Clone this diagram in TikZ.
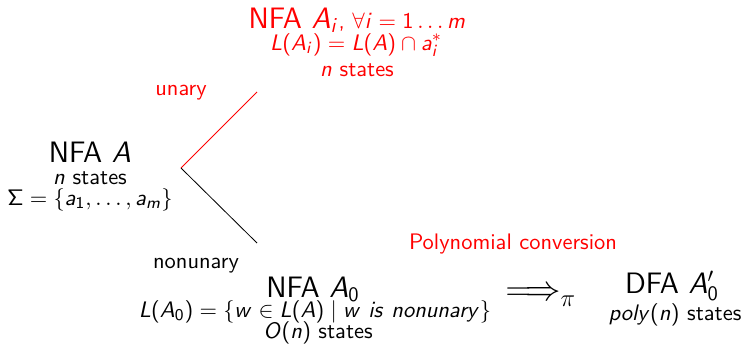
\documentclass[11pt,tikz,border=0pt]{standalone}
\usepackage{amsmath}
\renewcommand{\familydefault}{\sfdefault}
% sans serif letters and digits in math, as on a slide
\DeclareSymbolFont{sfletters}{OT1}{cmss}{m}{sl}
\DeclareSymbolFont{sfupright}{OT1}{cmss}{m}{n}
\DeclareMathSymbol{A}{\mathalpha}{sfletters}{`A}
\DeclareMathSymbol{L}{\mathalpha}{sfletters}{`L}
\DeclareMathSymbol{O}{\mathalpha}{sfletters}{`O}
\DeclareMathSymbol{a}{\mathalpha}{sfletters}{`a}
\DeclareMathSymbol{i}{\mathalpha}{sfletters}{`i}
\DeclareMathSymbol{l}{\mathalpha}{sfletters}{`l}
\DeclareMathSymbol{m}{\mathalpha}{sfletters}{`m}
\DeclareMathSymbol{n}{\mathalpha}{sfletters}{`n}
\DeclareMathSymbol{o}{\mathalpha}{sfletters}{`o}
\DeclareMathSymbol{p}{\mathalpha}{sfletters}{`p}
\DeclareMathSymbol{r}{\mathalpha}{sfletters}{`r}
\DeclareMathSymbol{s}{\mathalpha}{sfletters}{`s}
\DeclareMathSymbol{u}{\mathalpha}{sfletters}{`u}
\DeclareMathSymbol{w}{\mathalpha}{sfletters}{`w}
\DeclareMathSymbol{y}{\mathalpha}{sfletters}{`y}
\DeclareMathSymbol{0}{\mathord}{sfupright}{`0}
\DeclareMathSymbol{1}{\mathord}{sfupright}{`1}
\DeclareMathSymbol{(}{\mathopen}{sfupright}{`(}
\DeclareMathSymbol{)}{\mathclose}{sfupright}{`)}
\DeclareMathSymbol{\Sigma}{\mathalpha}{sfupright}{"06}

\begin{document}
\begin{tikzpicture}[x=0.4875pt, y=-0.4875pt,
    every node/.style={anchor=base, inner sep=0pt},
    title/.style={font=\Large}]
    \useasboundingbox (0,0) rectangle (743,343);

    % the given automaton
    \node[title] (srcname) at (90,162) {NFA $A$};
    \node (srcsize) at (90,184) {$n$ states};
    \node (srcalph) at (90,205) {$\Sigma = \{a_1, \ldots, a_m\}$};

    % split into unary and nonunary parts
    \coordinate (fork) at (181,168);
    \coordinate (upend) at (257,92);
    \coordinate (downend) at (257,243);
    \draw[red] (fork) -- (upend);
    \draw (fork) -- (downend);
    \node[red] (unary) at (181,95) {unary};
    \node (nonunary) at (196,268) {nonunary};

    % unary automata
    \node[red] (uname) at (357,28) {{\Large NFA $A_i$}, $\forall i = 1 \ldots m$};
    \node[red] (ulang) at (356,50) {$L(A_i) = L(A) \cap a_i^*$};
    \node[red] (usize) at (357,76) {$n$ states};

    % nonunary automaton
    \node[title] (nname) at (313,297) {NFA $A_0$};
    \node (nlang) at (315,317) {$L(A_0) = \{w \in L(A) \mid w\ is\ nonunary\}$};
    \node (nsize) at (318,338) {$O(n)$ states};

    % conversion to a DFA
    \node[font=\LARGE, anchor=center] (implies) at (541,297) {$\Longrightarrow_\pi$};
    \node[red] (conv) at (513,249) {Polynomial conversion};
    \node[title] (dname) at (672,293) {DFA $A_0'$};
    \node (dsize) at (675,320) {$poly(n)$ states};
\end{tikzpicture}
\end{document}
